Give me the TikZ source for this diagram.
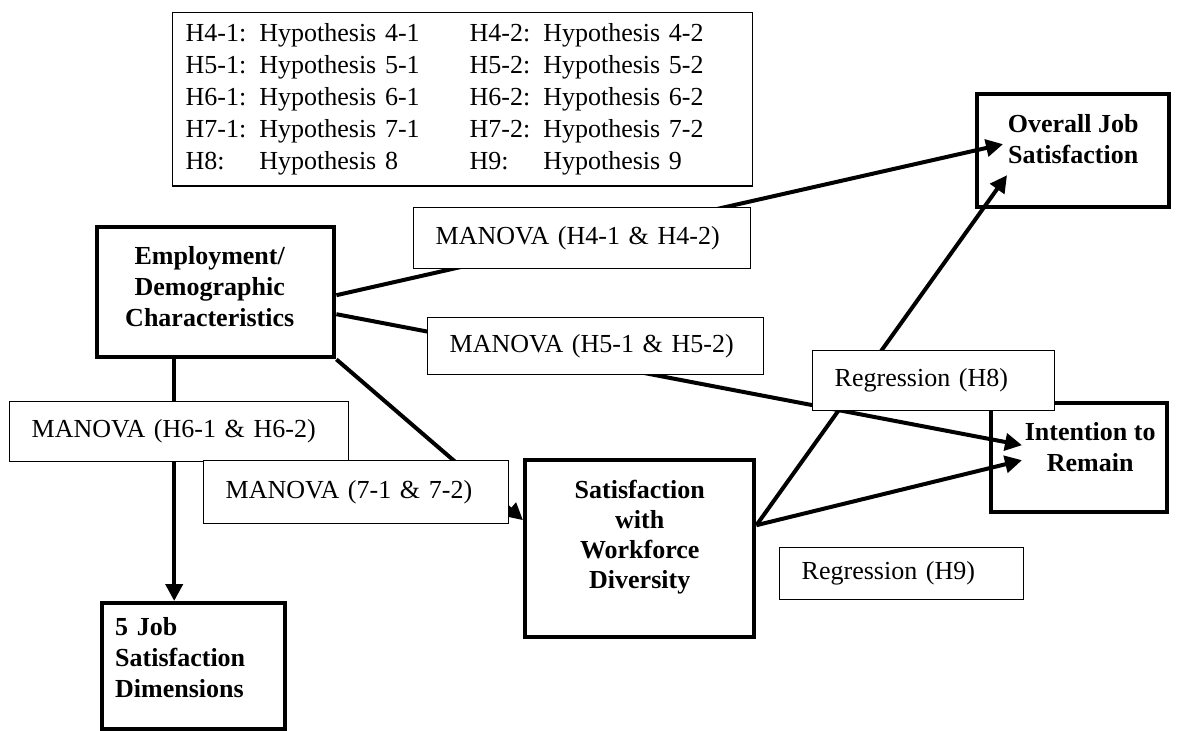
\documentclass[tikz,border=0pt]{standalone}
\usepackage{fontspec}
\setmainfont{Liberation Serif}
\usepackage{tikz}
\usetikzlibrary{arrows}
\usetikzlibrary{arrows.meta}
\usetikzlibrary{calc}
\tikzset{
	bigbox/.style={draw, line width=2.2pt, font=\fontsize{13pt}{15.5pt}\selectfont\bfseries, align=center, anchor=north west, inner sep=2pt},
	hypbox/.style={draw, line width=0.7pt, fill=white, font=\fontsize{13pt}{15.5pt}\selectfont, align=left, anchor=north west, inner xsep=11pt, inner ysep=2pt},
	flowline/.style={line width=2pt, -{Triangle[length=8.5pt,width=8.5pt]}}
}
\newcommand{\drawHypBox}[5]{
	\node[hypbox, text width=#4, minimum height=#5] (#1) at (#2) {#3};
}

\begin{document}
\begin{tikzpicture}[x=0.5pt, y=-0.5pt]
		\useasboundingbox (0,0) rectangle (1181,731);

		% legend of hypotheses
		\node[draw, line width=0.7pt, anchor=north west, text width=277pt, minimum height=85pt, inner xsep=6.5pt, align=left, font=\fontsize{13pt}{16pt}\selectfont] (Legend) at (172,12) {%
			\begin{tabular}{@{}l@{ }l@{\hspace{25pt}}l@{ }l@{}}
				H4-1: & Hypothesis 4-1 & H4-2: & Hypothesis 4-2\\
				H5-1: & Hypothesis 5-1 & H5-2: & Hypothesis 5-2\\
				H6-1: & Hypothesis 6-1 & H6-2: & Hypothesis 6-2\\
				H7-1: & Hypothesis 7-1 & H7-2: & Hypothesis 7-2\\
				H8: & Hypothesis 8 & H9: & Hypothesis 9
			\end{tabular}};

		% constructs
		\node[bigbox, minimum width=118.5pt, minimum height=65pt, text depth=6pt] (Emp) at (95,225) {\hspace*{-6pt}Employment/\\\hspace*{-6pt}Demographic\\\hspace*{-6pt}Characteristics};
		\node[bigbox, minimum width=96pt, minimum height=56.5pt, text depth=11.5pt] (Ojs) at (975,92) {Overall Job\\Satisfaction};
		\node[bigbox, minimum width=88pt, minimum height=54.5pt, text depth=11pt] (Itr) at (989,401) {\hspace*{11pt}Intention to\\\hspace*{11pt}Remain};
		\node[bigbox, minimum width=114.5pt, minimum height=88.5pt, text depth=14pt, font=\fontsize{13pt}{15pt}\selectfont\bfseries] (Swd) at (523,458) {Satisfaction\\with\\Workforce\\Diversity};
		\node[bigbox, minimum height=63pt, align=left, text width=78.5pt, inner xsep=6.5pt, text depth=40pt] (Jsd) at (100,601) {5 Job\\Satisfaction\\Dimensions};

		\coordinate (Emp_R1) at ([yshift=-1.5pt]Emp.east);
		\coordinate (Emp_R2) at ([yshift=-11pt]Emp.east);
		\coordinate (Emp_B) at ([xshift=-20.75pt]Emp.south);
		\coordinate (Ojs_In1) at ([xshift=14pt,yshift=3.25pt]Ojs.west);
		\coordinate (Ojs_In2) at ([xshift=16pt,yshift=-12.25pt]Ojs.west);
		\coordinate (Itr_In1) at ([xshift=16.5pt,yshift=6.25pt]Itr.west);
		\coordinate (Itr_In2) at ([xshift=16.5pt,yshift=-1.25pt]Itr.west);
		\coordinate (Swd_L) at ([yshift=14.25pt]Swd.west);
		\coordinate (Swd_R) at ([yshift=11.75pt]Swd.east);

		% links
		\draw[flowline] (Emp_R1) -- (Ojs_In1);
		\draw[flowline] (Emp_R2) -- (Itr_In1);
		\draw[flowline] (Emp_B) -- (Emp_B |- Jsd.north);
		\draw[flowline] (Emp.south east) -- (Swd_L);
		\draw[flowline] (Swd_R) -- (Ojs_In2);
		\draw[flowline] (Swd_R) -- (Itr_In2);

		% test labels
		\drawHypBox{Hyp_H4}{413,207}{MANOVA (H4-1 \& H4-2)}{146.5pt}{30.5pt}
		\drawHypBox{Hyp_H5}{427,317}{MANOVA (H5-1 \& H5-2)}{146pt}{28.5pt}
		\drawHypBox{Hyp_H6}{9,401}{MANOVA (H6-1 \& H6-2)}{147.5pt}{30pt}
		\drawHypBox{Hyp_H7}{203,460}{MANOVA (7-1 \& 7-2)}{130.5pt}{31.5pt}
		\drawHypBox{Hyp_H8}{812,350}{Regression (H8)}{99pt}{30pt}
		\drawHypBox{Hyp_H9}{779,547}{Regression (H9)}{100pt}{26pt}
	\end{tikzpicture}
\end{document}
